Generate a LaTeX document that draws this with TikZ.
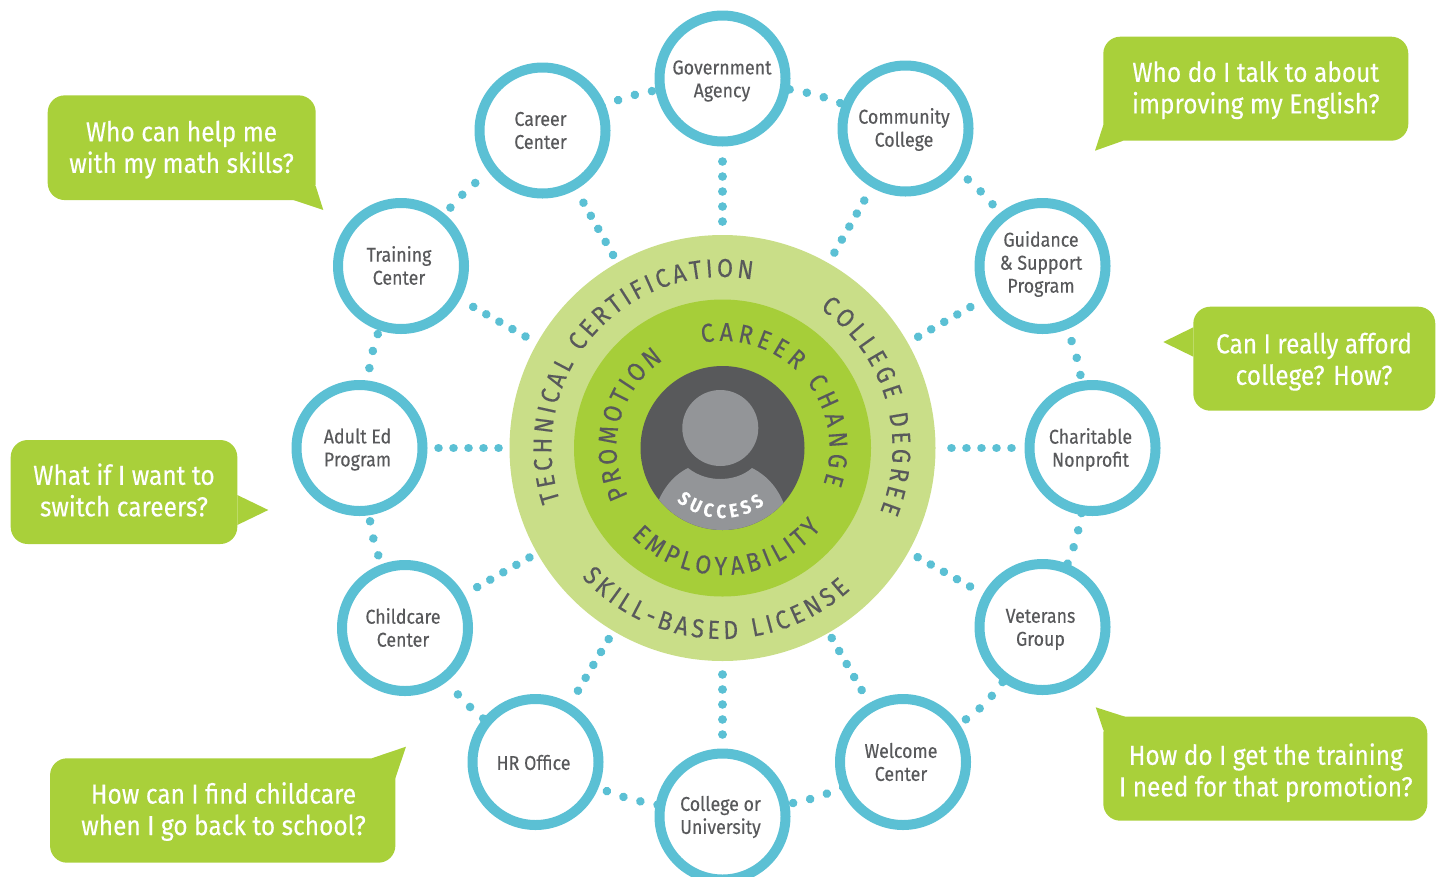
\documentclass[tikz,border=0pt]{standalone}
\usepackage{fontspec}
\setmainfont{Fira Sans}[FakeStretch=0.89,FakeBold=0.25]
\usetikzlibrary{decorations.text}
\definecolor{ringc}{HTML}{5BC0D4}
\definecolor{outerc}{HTML}{C9DE88}
\definecolor{midc}{HTML}{A6CE39}
\definecolor{darkc}{HTML}{58595B}
\definecolor{grayc}{HTML}{939598}
\definecolor{bubc}{HTML}{A9D03A}
\tikzset{
  x=1pt,y=1pt,
  ring/.style={circle,draw=ringc,line width=10pt,fill=white,minimum size=126pt,inner sep=0pt,outer sep=5pt},
  lab/.style={align=center,text=darkc,inner sep=0pt,font=\fontsize{20}{23}\selectfont},
  bubble/.style={fill=bubc,rounded corners=17pt,inner sep=0pt},
  bubtext/.style={text=white,align=center,inner sep=0pt,font=\fontsize{27.5}{31.5}\selectfont},
  link/.style={draw=ringc,line width=8.6pt,line cap=round,dash pattern=on 0.01pt off 17.5pt,shorten <=#1},
  spoke/.style={draw=ringc,line width=8.6pt,line cap=round,dash pattern=on 0.01pt off 15pt,shorten <=#1,shorten >=6pt},
  arctext/.style={decorate,decoration={text along path,text align={fit to path},text={#1}}}
}
\newcommand{\ringat}[6]{%
  \node[ring] (#1) at (#2,-#3) {};
  \node[lab] (#1t) at (#4,-#5) {#6};}
\begin{document}
\begin{tikzpicture}
\useasboundingbox (0,0) rectangle (1440,-876);
% discs
\node[circle,fill=outerc,minimum size=426pt,inner sep=0pt,outer sep=0pt] (hub) at (722.5,-448) {};
\node[circle,fill=midc,minimum size=297pt,inner sep=0pt] (midd) at (722.5,-448) {};
\node[circle,fill=darkc,minimum size=164pt,inner sep=0pt] (core) at (722.5,-448) {};
\begin{scope}
\clip (722.5,-448) circle (82);
\fill[grayc] (688,-468) .. controls (698,-476) and (710,-479) .. (720,-479)
  .. controls (731,-479) and (743,-476) .. (752,-468)
  .. controls (768,-476) and (780,-490) .. (786,-510) -- (786,-540) -- (655,-540) -- (655,-510)
  .. controls (662,-488) and (674,-475) .. (688,-468) -- cycle;
\end{scope}
\node[circle,fill=grayc,minimum size=76pt,inner sep=0pt] (head) at (720.3,-428) {};
% rings
\ringat{gov}{722.5}{78.5}{722}{81}{Government\\Agency}
\ringat{comm}{905.5}{128.5}{904}{129.5}{Community\\College}
\ringat{guid}{1042.5}{266}{1041}{264}{\fontsize{20}{22}\selectfont Guidance\\\& Support\\Program}
\ringat{char}{1092.5}{448}{1090.5}{449.5}{Charitable\\Nonprofit}
\ringat{vet}{1042.5}{627}{1040.5}{629.5}{Veterans\\Group}
\ringat{wel}{903}{762}{901}{762}{Welcome\\Center}
\ringat{coll}{722.5}{816.5}{720.5}{817}{College or\\University}
\ringat{hr}{535.5}{762}{533.5}{762.5}{HR Office}
\ringat{child}{405}{628}{403}{627.5}{Childcare\\Center}
\ringat{adult}{359.5}{448}{357.5}{449.5}{Adult Ed\\Program}
\ringat{train}{401}{266}{399}{265.5}{Training\\Center}
\ringat{car}{542.5}{130.5}{540.5}{130.5}{Career\\Center}
% ring-to-ring links
\draw[link=-4pt] (car) to[bend left=6] (gov);
\draw[link=0pt] (gov) to[bend left=6] (comm);
\draw[link=-5pt] (comm) to[bend left=6] (guid);
\draw[link=-5pt] (guid) to[bend left=6] (char);
\draw[link=-2pt] (char) to[bend left=6] (vet);
\draw[link=0pt] (vet) to[bend left=10] (wel);
\draw[link=-3pt] (wel) to[bend left=6] (coll);
\draw[link=-2pt] (coll) to[bend left=6] (hr);
\draw[link=0pt] (hr) to[bend left=6] (child);
\draw[link=9.5pt] (child) to[bend left=6] (adult);
\draw[link=-5pt] (adult) to[bend left=6] (train);
\draw[link=8.5pt] (train) to[bend left=6] (car);
% spokes
\draw[spoke=15pt] (gov) -- (hub);
\draw[spoke=15pt] (comm) -- (hub);
\draw[spoke=15pt] (guid) -- (hub);
\draw[spoke=13pt] (char) -- (hub);
\draw[spoke=15pt] (vet) -- (hub);
\draw[spoke=15pt] (wel) -- (hub);
\draw[spoke=14pt] (coll) -- (hub);
\draw[spoke=15pt] (hr) -- (hub);
\draw[spoke=15pt] (child) -- (hub);
\draw[spoke=11pt] (adult) -- (hub);
\draw[spoke=15pt] (train) -- (hub);
\draw[spoke=15pt] (car) -- (hub);
% curved texts
\begin{scope}[shift={(722.5,-448)}]
\path[arctext={|\color{darkc}\fontsize{26}{26}\selectfont|TECHNICAL CERTIFICATION}] (198:171) arc[start angle=198,end angle=80,radius=171];
\path[arctext={|\color{darkc}\fontsize{26}{26}\selectfont|COLLEGE DEGREE}] (55:170) arc[start angle=55,end angle=-22,radius=170];
\path[arctext={|\color{darkc}\fontsize{26}{26}\selectfont|SKILL-BASED LICENSE}] (222.5:191) arc[start angle=222.5,end angle=312,radius=191];
\path[arctext={|\color{darkc}\fontsize{26}{26}\selectfont|CAREER CHANGE}] (101:107) arc[start angle=101,end angle=-19.5,radius=107];
\path[arctext={|\color{darkc}\fontsize{26}{26}\selectfont|PROMOTION}] (207:106) arc[start angle=207,end angle=124,radius=106];
\path[arctext={|\color{darkc}\fontsize{26}{26}\selectfont|EMPLOYABILITY}] (224:127) arc[start angle=224,end angle=321,radius=127];
\path[arctext={|\color{white}\bfseries\fontsize{19}{19}\selectfont|SUCCESS}] (229:70) arc[start angle=229,end angle=307,radius=70];
\end{scope}
% bubbles
\fill[bubc] (315.7,-186) -- (323.3,-210) -- (293.3,-200) -- cycle;
\node[bubble,minimum width=268pt,minimum height=104.7pt] (b1) at (181.7,-147.7) {};
\node[bubtext] (b1t) at (181.5,-149.7) {Who can help me\\with my math skills?};
\fill[bubc] (1103.3,-125) -- (1095,-150.7) -- (1123.3,-140.7) -- cycle;
\node[bubble,minimum width=305pt,minimum height=104pt] (b2) at (1255.8,-88.7) {};
\node[bubtext] (b2t) at (1255.8,-90.2) {Who do I talk to about\\improving my English?};
\fill[bubc] (1193.3,-327.3) -- (1163.3,-342) -- (1193.3,-356.7) -- cycle;
\node[bubble,minimum width=242pt,minimum height=104pt] (b3) at (1314.3,-358.7) {};
\node[bubtext] (b3t) at (1314,-361.7) {Can I really afford\\college? How?};
\fill[bubc] (237.3,-495) -- (268.3,-510) -- (237.3,-525) -- cycle;
\node[bubble,minimum width=226.6pt,minimum height=104pt] (b4) at (124,-492) {};
\node[bubtext] (b4t) at (124,-490) {What if I want to\\switch careers?};
\fill[bubc] (371.7,-758.3) -- (406,-746.7) -- (395.3,-778.3) -- cycle;
\node[bubble,minimum width=345.3pt,minimum height=104.4pt] (b5) at (222.7,-810.5) {};
\node[bubtext] (b5t) at (223.5,-811.5) {How can I find childcare\\when I go back to school?};
\fill[bubc] (1125,-716.7) -- (1095.7,-707.3) -- (1103.3,-730) -- cycle;
\node[bubble,minimum width=324pt,minimum height=104pt] (b6) at (1265.3,-768.7) {};
\node[bubtext] (b6t) at (1265.8,-772.7) {How do I get the training\\I need for that promotion?};
\end{tikzpicture}
\end{document}
